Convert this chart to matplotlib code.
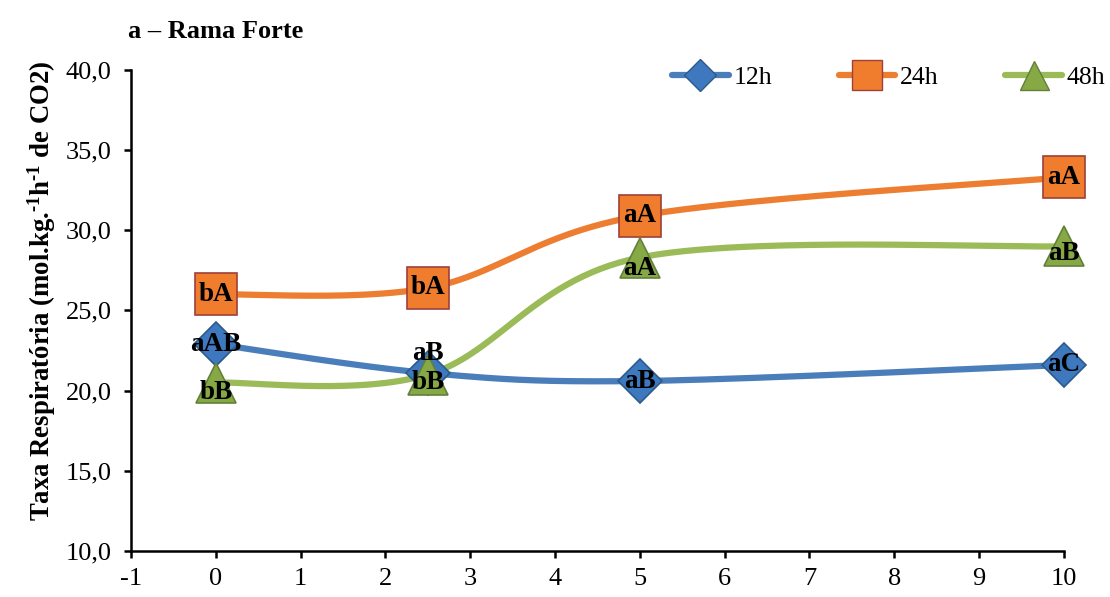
import matplotlib.pyplot as plt
import numpy as np

plt.rcParams['font.family'] = ['Liberation Serif', 'DejaVu Serif']
plt.rcParams['axes.unicode_minus'] = False
plt.rcParams['mathtext.fontset'] = 'custom'
plt.rcParams['mathtext.rm'] = 'Liberation Serif:bold'
plt.rcParams['mathtext.it'] = 'Liberation Serif:bold'
plt.rcParams['mathtext.bf'] = 'Liberation Serif:bold'

dias = [0, 2.5, 5, 10]
series = ['12h', '24h', '48h']
taxa_12h = [22.9, 21.1, 20.6, 21.6]
taxa_24h = [26.0, 26.4, 30.9, 33.3]
taxa_48h = [20.5, 21.0, 28.3, 29.0]
letras_12h = ['aAB', 'aB', 'aB', 'aC']
letras_24h = ['bA', 'bA', 'aA', 'aA']
letras_48h = ['bB', 'bB', 'aA', 'aB']

# label offsets in points (style only)
offs_12h = [(0, 0), (0, 14), (0, 0), (0, 0)]
offs_24h = [(0, 0), (0, 0), (0, 0), (0, 0)]
offs_48h = [(0, -7), (0, -6), (0, -8), (0, -5)]


def smooth(x, y, n=60):
    # Excel-like smoothed line: cubic bezier with catmull-rom tangents
    p = np.column_stack([x, y]).astype(float)
    pts = np.vstack([p[0], p, p[-1]])
    out = []
    t = np.linspace(0, 1, n)[:, None]
    for i in range(1, len(pts) - 2):
        p0, p1, p2, p3 = pts[i - 1], pts[i], pts[i + 1], pts[i + 2]
        c1 = p1 + (p2 - p0) / 6
        c2 = p2 - (p3 - p1) / 6
        seg = ((1 - t) ** 3) * p1 + 3 * ((1 - t) ** 2) * t * c1 + 3 * (1 - t) * t ** 2 * c2 + t ** 3 * p2
        out.append(seg)
    s = np.vstack(out)
    return s[:, 0], s[:, 1]


fig = plt.figure(figsize=(11.1, 5.97), dpi=100)
ax = fig.add_axes([0.118, 0.077, 0.8405, 0.806])

styles = [
    dict(color='#4A7EBB', marker='D', mfc='#3E78BE', mec='#2C5A8C', ms=22),
    dict(color='#ED7D31', marker='s', mfc='#F07C2E', mec='#A0403A', ms=30),
    dict(color='#9BBB59', marker='^', mfc='#86A946', mec='#62803A', ms=29),
]
data = [taxa_12h, taxa_24h, taxa_48h]
letras = [letras_12h, letras_24h, letras_48h]
offs = [offs_12h, offs_24h, offs_48h]

handles = []
for k, (name, vals, st) in enumerate(zip(series, data, styles)):
    sx, sy = smooth(dias, vals)
    ax.plot(sx, sy, color=st['color'], lw=4.5, solid_capstyle='round', zorder=2 + k)
    ax.plot(dias, vals, ls='none', marker=st['marker'], mfc=st['mfc'], mec=st['mec'],
            mew=1.2, ms=st['ms'], zorder=5 + k, clip_on=False)
    h, = ax.plot([], [], color=st['color'], lw=4.5, solid_capstyle='round',
                 marker=st['marker'], mfc=st['mfc'], mec=st['mec'], mew=1.0,
                 ms=st['ms'] * 0.72)
    handles.append(h)

for vals, labs, of in zip(data, letras, offs):
    for xv, yv, lab, o in zip(dias, vals, labs, of):
        ax.annotate(lab, (xv, yv), xytext=o, textcoords='offset points',
                    ha='center', va='center', fontsize=19.5, fontweight='bold',
                    color='black', zorder=10, annotation_clip=False)

ax.set_xlim(-1, 10)
ax.set_ylim(10, 40)
ax.set_xticks(range(-1, 11))
ax.set_yticks(np.arange(10, 41, 5))
ax.set_yticklabels([('%.1f' % v).replace('.', ',') for v in np.arange(10, 41, 5)])
for s in ['top', 'right']:
    ax.spines[s].set_visible(False)
for s in ['left', 'bottom']:
    ax.spines[s].set_linewidth(1.8)
ax.tick_params(axis='y', direction='out', length=5, width=1.8, labelsize=19, pad=9)
ax.tick_params(axis='x', direction='out', length=5, width=1.8, labelsize=19, pad=7)
ax.set_ylabel('Taxa Respiratória (mol.kg.$^{\\text{-1}}$h$^{\\text{-1}}$ de CO2)',
              fontsize=19.3, fontweight='bold')
ax.yaxis.set_label_coords(-0.078, 0.54)

fig.text(0.115, 0.948, 'a \u2013 Rama Forte', fontsize=19, fontweight='bold', va='center')

fig.legend(handles, series, loc='center left', bbox_to_anchor=(0.6055, 0.871), ncol=3,
           frameon=False, fontsize=18.5, handlelength=2.2, handletextpad=0.2,
           columnspacing=2.58, borderpad=0, borderaxespad=0)

fig.savefig('out.png', dpi=100)
